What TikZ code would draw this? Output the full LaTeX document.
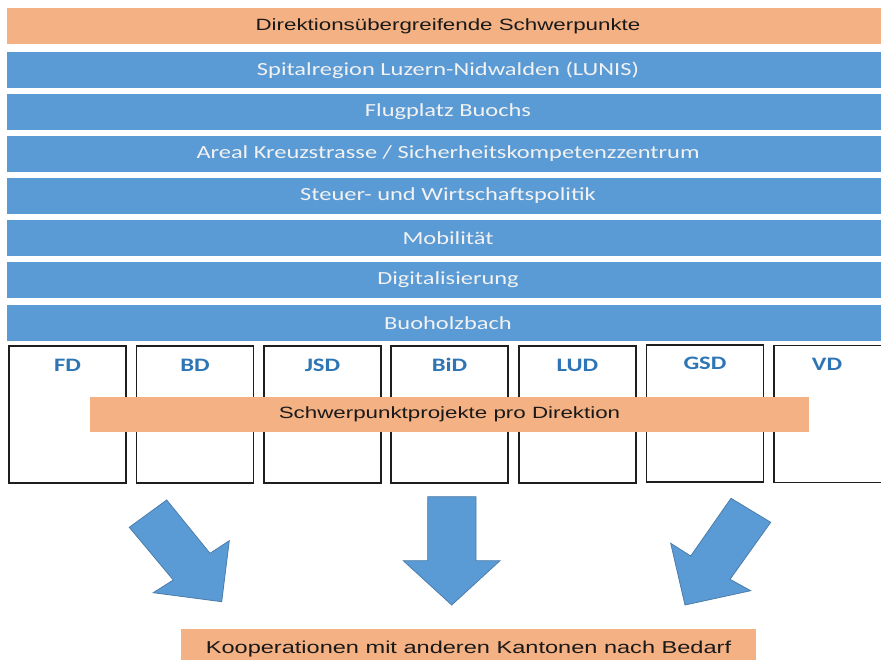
\documentclass[tikz,border=0pt]{standalone}
\usepackage{fontspec}
\setmainfont{Liberation Sans}
\newfontfamily\barfont{Carlito}[FakeStretch=1.32]
\newfontfamily\lblfont{Carlito}[FakeStretch=1.3]
\newfontfamily\arialx{Liberation Sans}[FakeStretch=1.37]
\definecolor{barblue}{RGB}{91,155,213}
\definecolor{barorange}{RGB}{244,177,131}
\definecolor{lblblue}{RGB}{46,117,182}
\definecolor{arrowedge}{RGB}{75,125,170}
\definecolor{boxline}{RGB}{30,30,30}
\begin{document}
\begin{tikzpicture}[x=1pt,y=-1pt,
  bluebar/.style={rectangle, fill=barblue, inner sep=0pt, minimum width=882pt, minimum height=36pt,
     text=white!95!black, font=\barfont\fontsize{18.5}{20}\selectfont},
  orangebar/.style={rectangle, fill=barorange, inner sep=0pt, minimum height=36pt,
     text=black!90, font=\arialx\fontsize{16.3}{18}\selectfont},
  dirbox/.style={rectangle, draw=boxline, line width=1.1pt, fill=white, inner sep=0pt,
     minimum width=117pt, minimum height=137pt},
  dirlabel/.style={inner sep=0pt, text=lblblue, font=\lblfont\bfseries\fontsize{19}{20}\selectfont},
  bigarrow/.style={fill=barblue, draw=arrowedge, line width=0.8pt, line join=miter}]
\useasboundingbox (0,0) rectangle (881,659);
\fill[white] (0,0) rectangle (881,659);

% top bars
\node[orangebar, minimum width=882pt] (top) at (448,26) {Direktionsübergreifende Schwerpunkte};
\node[bluebar] (b1) at (448,70) {Spitalregion Luzern-Nidwalden (LUNIS)};
\node[bluebar] (b2) at (448,112) {Flugplatz Buochs};
\node[bluebar] (b3) at (448,154) {Areal Kreuzstrasse / Sicherheitskompetenzzentrum};
\node[bluebar] (b4) at (448,196) {Steuer- und Wirtschaftspolitik};
\node[bluebar] (b5) at (448,238) {Mobilität};
\node[bluebar] (b6) at (448,280) {Digitalisierung};
\node[bluebar] (b7) at (448,323) {Buoholzbach};

% direction boxes
\node[dirbox] (fd)  at (67.5,414.5) {};
\node[dirbox] (bd)  at (195,414.5) {};
\node[dirbox] (jsd) at (322.5,414.5) {};
\node[dirbox] (bid) at (449.5,414.5) {};
\node[dirbox] (lud) at (577.5,414.5) {};
\node[dirbox] (gsd) at (705,413.5) {};
\node[dirbox] (vd)  at (832.5,414) {};

\node[dirlabel] (lfd)  at (67.5,365) {FD};
\node[dirlabel] (lbd)  at (195,365) {BD};
\node[dirlabel] (ljsd) at (322.5,365) {JSD};
\node[dirlabel] (lbid) at (449.5,365) {BiD};
\node[dirlabel] (llud) at (577.5,365) {LUD};
\node[dirlabel] (lgsd) at (705,363) {GSD};
\node[dirlabel] (lvd)  at (827,364) {VD};

\node[orangebar, minimum width=719pt, minimum height=35pt] (proj) at (449.5,414.5) {Schwerpunktprojekte pro Direktion};

% arrows
\draw[bigarrow] (166.7,500) -- (210,553.3) -- (229.3,540.7) -- (221.7,601.7) -- (153.3,592.7) -- (173.3,580) -- (129.3,527.3) -- cycle;
\draw[bigarrow] (427.7,496.7) -- (476,496.7) -- (476,560.7) -- (500,560.7) -- (451.7,605) -- (403.3,560.7) -- (427.7,560.7) -- cycle;
\draw[bigarrow] (731,498.3) -- (770.7,522.3) -- (730,579.3) -- (750.7,590.7) -- (685,605) -- (670.7,543.3) -- (690.7,556) -- cycle;

% bottom bar
\node[orangebar, minimum width=575pt, minimum height=36pt, font=\arialx\fontsize{17.2}{19}\selectfont, text depth=0pt] (coop) at (468.5,647) {Kooperationen mit anderen Kantonen nach Bedarf};
\end{tikzpicture}
\end{document}
